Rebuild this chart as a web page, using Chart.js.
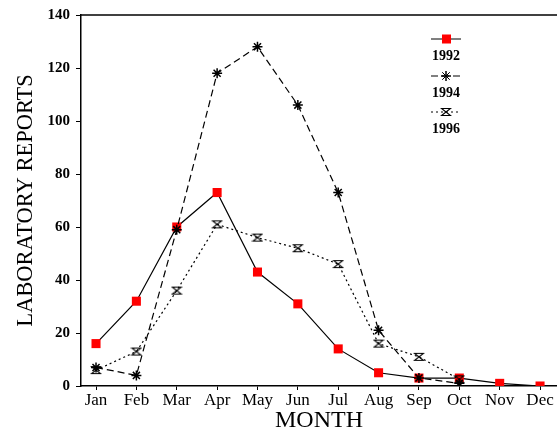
<!DOCTYPE html>
<html>
<head>
<meta charset="utf-8">
<script src="https://cdn.jsdelivr.net/npm/chart.js@4"></script>
<style>
  html, body { margin: 0; padding: 0; background: #fff; }
  canvas { display: block; }
</style>
</head>
<body>
<canvas id="reportsChart" width="557" height="435"></canvas>
<script>
const months = ["Jan", "Feb", "Mar", "Apr", "May", "Jun", "Jul", "Aug", "Sep", "Oct", "Nov", "Dec"];
const reports1992 = [16, 32, 60, 73, 43, 31, 14, 5, 3, 3, 1, 0];
const reports1994 = [7, 4, 59, 118, 128, 106, 73, 21, 3, 1];
const reports1996 = [6, 13, 36, 61, 56, 52, 46, 16, 11, 2.5];
const yTicks = [0, 20, 40, 60, 80, 100, 120, 140];

function toPoints(arr) {
    return arr.map((v, i) => ({ x: i, y: v }));
}

// hourglass marker for 1996
function hourglass() {
    let c = document.createElement("canvas");
    c.width = 12; c.height = 10;
    let g = c.getContext("2d");
    g.strokeStyle = "#000";
    g.lineWidth = 1.2;
    g.beginPath();
    g.moveTo(1.5, 1.5); g.lineTo(10.5, 1.5); g.lineTo(1.5, 8.5); g.lineTo(10.5, 8.5); g.closePath();
    g.stroke();
    return c;
}
const hourglassImg = hourglass();

// top border + legend (line sample above the year)
const extras = {
    id: "extras",
    afterDraw(chart) {
        const ctx = chart.ctx;
        const area = chart.chartArea;
        ctx.save();
        ctx.strokeStyle = "#000";
        ctx.lineWidth = 1.5;
        ctx.beginPath();
        ctx.moveTo(area.left, area.top);
        ctx.lineTo(area.right, area.top);
        ctx.stroke();

        const rows = [39, 76, 112];
        chart.data.datasets.forEach((ds, i) => {
            let y = rows[i];
            ctx.strokeStyle = "#000";
            ctx.lineWidth = 1;
            ctx.setLineDash(ds.borderDash || []);
            ctx.beginPath();
            ctx.moveTo(431, y);
            ctx.lineTo(461, y);
            ctx.stroke();
            ctx.setLineDash([]);
            if (ds.pointStyle === "rect") {
                ctx.fillStyle = ds.pointBackgroundColor;
                ctx.fillRect(442, y - 4.5, 9, 9);
            } else if (ds.pointStyle === "star") {
                Chart.helpers.drawPoint(ctx, { pointStyle: "star", radius: 5, borderWidth: 1.5 }, 446, y);
                ctx.stroke();
            } else {
                ctx.drawImage(hourglassImg, 440, y - 5);
            }
            ctx.fillStyle = "#000";
            ctx.font = "bold 14px 'Liberation Serif'";
            ctx.textAlign = "center";
            ctx.textBaseline = "middle";
            ctx.fillText(ds.label, 446, y + 17);
        });
        ctx.restore();
    }
};

let reportsCanvas = document.getElementById("reportsChart").getContext("2d");
var reportsChart = new Chart(reportsCanvas, {
    type: "line",
    data: {
        datasets: [{
            label: "1992",
            data: toPoints(reports1992),
            borderColor: "#000",
            borderWidth: 1.2,
            pointStyle: "rect",
            pointRadius: 6.4,
            pointBackgroundColor: "#ff0000",
            pointBorderWidth: 0,
            order: 3
        }, {
            label: "1994",
            data: toPoints(reports1994),
            borderColor: "#000",
            borderWidth: 1.2,
            borderDash: [7, 4],
            pointStyle: "star",
            pointRadius: 5,
            pointBorderColor: "#000",
            pointBorderWidth: 1.5,
            order: 1
        }, {
            label: "1996",
            data: toPoints(reports1996),
            borderColor: "#000",
            borderWidth: 1.2,
            borderDash: [2, 3],
            pointStyle: hourglassImg,
            order: 2
        }]
    },
    options: {
        responsive: false,
        animation: false,
        devicePixelRatio: 1,
        events: [],
        layout: { autoPadding: false, padding: { top: 14, right: 0, left: 0, bottom: 0 } },
        scales: {
            x: {
                type: "linear",
                min: -0.372,
                max: 11.42,
                afterBuildTicks: (scale) => { scale.ticks = months.map((m, i) => ({ value: i })); },
                afterFit: (scale) => {
                    scale.height = 49;
                    scale.paddingLeft = 0;
                    scale.paddingRight = 0;
                },
                ticks: {
                    color: "#000",
                    padding: 0,
                    autoSkip: false,
                    maxRotation: 0,
                    font: { family: "Liberation Serif", size: 17 },
                    callback: (v) => months[v]
                },
                grid: { drawOnChartArea: false, tickLength: 4, color: "#000", lineWidth: 1 },
                border: { color: "#000", width: 1.5 },
                title: {
                    display: true,
                    text: "MONTH",
                    color: "#000",
                    padding: { top: 0, bottom: 0 },
                    font: { family: "Liberation Serif", size: 24 }
                }
            },
            y: {
                min: 0,
                max: 140,
                afterBuildTicks: (scale) => { scale.ticks = yTicks.map(v => ({ value: v })); },
                afterFit: (scale) => { scale.width = 81; },
                ticks: {
                    color: "#000",
                    padding: 6,
                    font: { family: "Liberation Serif", size: 15, weight: "bold" }
                },
                grid: { drawOnChartArea: false, tickLength: 5, color: "#000", lineWidth: 1 },
                border: { color: "#000", width: 1.5 },
                title: {
                    display: true,
                    text: "LABORATORY REPORTS",
                    color: "#000",
                    padding: { top: 13, bottom: 0 },
                    font: { family: "Liberation Serif", size: 22.5 }
                }
            }
        },
        plugins: {
            legend: { display: false },
            tooltip: { enabled: false }
        }
    },
    plugins: [extras]
});
</script>
</body>
</html>
